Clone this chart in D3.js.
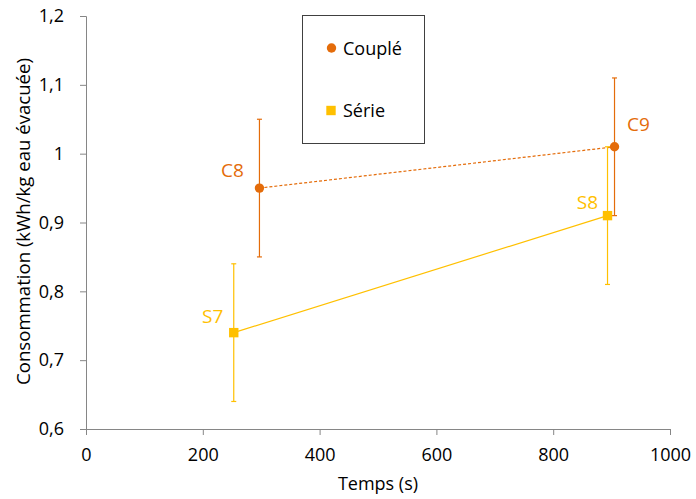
<!DOCTYPE html>
<html>
<head>
<meta charset="utf-8">
<script src="https://cdn.jsdelivr.net/npm/d3@7"></script>
<style>
  html, body { margin: 0; padding: 0; background: #fff; }
  svg { display: block; font-family: "Open Sans", sans-serif; }
</style>
</head>
<body>
<svg id="chart" width="696" height="499"></svg>
<script>
// ---- Data ----
const seriesNames = ["Couplé", "Série"];
const coupleLabels = ["C8", "C9"];
const coupleTime = [297, 905];
const coupleValue = [0.95, 1.01];
const coupleError = [0.1, 0.1];
const serieLabels = ["S7", "S8"];
const serieTime = [253, 893];
const serieValue = [0.74, 0.91];
const serieError = [0.1, 0.1];
const xTicks = [0, 200, 400, 600, 800, 1000];
const yTicks = [0.6, 0.7, 0.8, 0.9, 1.0, 1.1, 1.2];
const xTitle = "Temps (s)";
const yTitle = "Consommation (kWh/kg eau évacuée)";

// ---- Layout ----
const W = 696, H = 499;
const mLeft = 86, mRight = 670, mTop = 16, mBottom = 429;
const ORANGE = "#E46C0A", YELLOW = "#FFC000", AXIS = "#868686";

const svg = d3.select("#chart");
const x = d3.scaleLinear().domain([0, 1000]).range([mLeft, mRight]);
const y = d3.scaleLinear().domain([0.6, 1.2]).range([mBottom, mTop]);
const fmt = v => (v === 1 ? "1" : d3.format(".1f")(v).replace(".", ","));

// axes
const xAxis = svg.append("g").attr("transform", `translate(0,${mBottom})`)
  .call(d3.axisBottom(x).tickValues(xTicks).tickSize(6).tickPadding(13).tickFormat(d3.format("d")));
const yAxis = svg.append("g").attr("transform", `translate(${mLeft},0)`)
  .call(d3.axisLeft(y).tickValues(yTicks).tickSize(6).tickPadding(16).tickFormat(fmt));
[xAxis, yAxis].forEach(g => {
  g.select(".domain").attr("stroke", AXIS).attr("stroke-width", 1);
  g.selectAll(".tick line").attr("stroke", AXIS).attr("stroke-width", 1);
  g.selectAll(".tick text").attr("fill", "#000").style("font-size", "18px")
    .style("font-family", '"Open Sans", sans-serif');
});

// axis titles
svg.append("text").attr("x", (mLeft + mRight) / 2).attr("y", 490)
  .attr("text-anchor", "middle").style("font-size", "18px").attr("fill", "#000").text(xTitle);
svg.append("text").attr("transform", `translate(30,221.5) rotate(-90)`)
  .attr("text-anchor", "middle").style("font-size", "18.6px").attr("fill", "#000").text(yTitle);

function drawSeries(times, values, errors, labels, color, dashed, shape, labelOffsets) {
  const pts = times.map((t, i) => ({ t, v: values[i], e: errors[i], lab: labels[i], off: labelOffsets[i] }));
  const g = svg.append("g");
  g.append("path").datum(pts)
    .attr("d", d3.line().x(d => x(d.t)).y(d => y(d.v)))
    .attr("fill", "none").attr("stroke", color).attr("stroke-width", 1.2)
    .attr("stroke-dasharray", dashed ? "3,2" : null);
  pts.forEach(d => {
    const cx = x(d.t);
    g.append("line").attr("x1", cx).attr("x2", cx).attr("y1", y(d.v + d.e)).attr("y2", y(d.v - d.e))
      .attr("stroke", color).attr("stroke-width", 1.2);
    [d.v + d.e, d.v - d.e].forEach(val => {
      g.append("line").attr("x1", cx - 2.5).attr("x2", cx + 2.5).attr("y1", y(val)).attr("y2", y(val))
        .attr("stroke", color).attr("stroke-width", 1.2);
    });
  });
  pts.forEach(d => {
    if (shape === "circle") {
      g.append("circle").attr("cx", x(d.t)).attr("cy", y(d.v)).attr("r", 4.7).attr("fill", color);
    } else {
      g.append("rect").attr("x", x(d.t) - 4.7).attr("y", y(d.v) - 4.7).attr("width", 9.4).attr("height", 9.4).attr("fill", color);
    }
  });
  pts.forEach(d => {
    g.append("text").attr("x", x(d.t) + d.off[0]).attr("y", y(d.v) + d.off[1])
      .attr("text-anchor", "middle").attr("fill", color).style("font-size", "19px").text(d.lab);
  });
}

drawSeries(coupleTime, coupleValue, coupleError, coupleLabels, ORANGE, true, "circle", [[-27, -11], [24, -16]]);
drawSeries(serieTime, serieValue, serieError, serieLabels, YELLOW, false, "square", [[-21, -10], [-20, -7]]);

// legend
const lg = svg.append("g");
lg.append("rect").attr("x", 302.5).attr("y", 15.5).attr("width", 122).attr("height", 128)
  .attr("fill", "#fff").attr("stroke", "#404040").attr("stroke-width", 1);
lg.append("circle").attr("cx", 331.5).attr("cy", 48).attr("r", 4.7).attr("fill", ORANGE);
lg.append("text").attr("x", 343).attr("y", 54.5).style("font-size", "18px").attr("fill", "#000").text(seriesNames[0]);
lg.append("rect").attr("x", 331 - 4.7).attr("y", 110.5 - 4.7).attr("width", 9.4).attr("height", 9.4).attr("fill", YELLOW);
lg.append("text").attr("x", 343).attr("y", 117).style("font-size", "18px").attr("fill", "#000").text(seriesNames[1]);
</script>
</body>
</html>
